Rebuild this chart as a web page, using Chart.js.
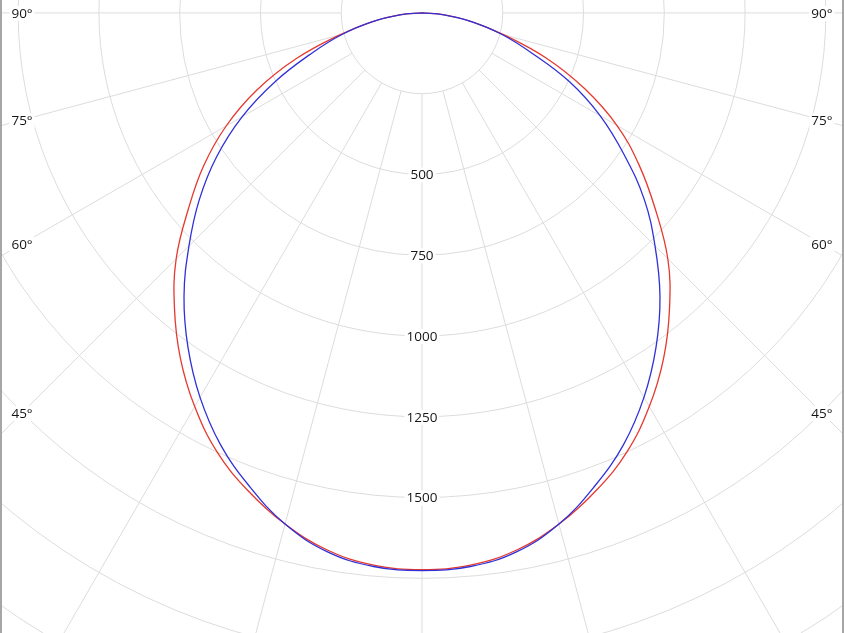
<!DOCTYPE html>
<html>
<head>
<meta charset="utf-8">
<script src="https://cdn.jsdelivr.net/npm/chart.js@4.4.0/dist/chart.umd.min.js"></script>
<style>
  html, body { margin: 0; padding: 0; background: #fff; overflow: hidden; }
  #wrap { width: 840px; height: 633px; border-left: 2px solid #a6a6a6; border-right: 2px solid #a6a6a6; }
</style>
</head>
<body>
<div id="wrap"><canvas id="polarChart" width="840" height="633"></canvas></div>
<script>
// angles from nadir, negative = left half of the diagram
const angles = [-90, -85, -80, -75, -70, -65, -60, -55, -50, -45, -40, -35, -30, -25, -20, -15, -10, -5,
  0, 5, 10, 15, 20, 25, 30, 35, 40, 45, 50, 55, 60, 65, 70, 75, 80, 85, 90];

// luminous intensity (cd)
const planeC0 = [0, 70, 158, 265, 415, 563, 700, 825, 944, 1076, 1192, 1304, 1407, 1500, 1574, 1638, 1688, 1716,
  1723, 1716, 1688, 1638, 1574, 1500, 1407, 1304, 1192, 1076, 942, 820, 697, 556, 410, 263, 158, 70, 0];
const planeC90 = [0, 68, 155, 255, 362, 500, 643, 776, 900, 1020, 1146, 1263, 1374, 1475, 1560, 1638, 1693, 1720,
  1726, 1720, 1693, 1638, 1560, 1475, 1374, 1263, 1146, 1020, 898, 763, 637, 503, 360, 255, 155, 68, 0];

const gridRadii = [250, 500, 750, 1000, 1250, 1500, 1750, 2000, 2250];
const gridAngles = [-90, -75, -60, -45, -30, -15, 0, 15, 30, 45, 60, 75, 90];
const radiusLabels = ["500", "750", "1000", "1250", "1500"];
const angleLabels = [90, 75, 60, 45, 30];

function toXY(values) {
  return values.map((v, i) => {
    const t = angles[i] * Math.PI / 180;
    return { x: v * Math.sin(t), y: -v * Math.cos(t) };
  });
}

const FONT = "13.5px 'Open Sans', sans-serif";

function drawLabel(ctx, text, px, py) {
  ctx.font = FONT;
  const w = ctx.measureText(text).width;
  ctx.fillStyle = "#fff";
  ctx.fillRect(px - w / 2 - 2, py - 7, w + 4, 15);
  ctx.fillStyle = "#151515";
  ctx.textAlign = "center";
  ctx.textBaseline = "middle";
  ctx.fillText(text, px, py + 1);
}

const polarGrid = {
  id: "polarGrid",
  beforeDatasetsDraw(chart) {
    const { ctx, scales: { x, y } } = chart;
    const cx = x.getPixelForValue(0);
    const cy = y.getPixelForValue(0);
    ctx.save();
    ctx.strokeStyle = "#dcdcdc";
    ctx.lineWidth = 1;
    gridRadii.forEach(r => {
      ctx.beginPath();
      ctx.arc(cx, cy, x.getPixelForValue(r) - cx, 0, Math.PI * 2);
      ctx.stroke();
    });
    const inner = gridRadii[0], outer = 4000;
    gridAngles.forEach(a => {
      const t = a * Math.PI / 180;
      ctx.beginPath();
      ctx.moveTo(x.getPixelForValue(inner * Math.sin(t)), y.getPixelForValue(-inner * Math.cos(t)));
      ctx.lineTo(x.getPixelForValue(outer * Math.sin(t)), y.getPixelForValue(-outer * Math.cos(t)));
      ctx.stroke();
    });
    ctx.restore();
  },
  afterDraw(chart) {
    const { ctx, scales: { x, y } } = chart;
    ctx.save();
    radiusLabels.forEach(l => {
      drawLabel(ctx, l, x.getPixelForValue(0), y.getPixelForValue(-Number(l)));
    });
    // angle labels sit near the left/right edges, on their radial line
    const edge = 1238;
    angleLabels.forEach(a => {
      const t = a * Math.PI / 180;
      const yy = -edge / Math.tan(t);
      [-1, 1].forEach(s => {
        drawLabel(ctx, a + "°", x.getPixelForValue(s * edge), y.getPixelForValue(yy));
      });
    });
    ctx.restore();
  }
};

new Chart(document.getElementById("polarChart"), {
  type: "scatter",
  data: {
    datasets: [
      {
        label: "C90-C270",
        data: toXY(planeC90),
        showLine: true,
        borderColor: "#3030d8",
        borderWidth: 1.3,
        pointRadius: 0,
        tension: 0.4,
        fill: false
      },
      {
        label: "C0-C180",
        data: toXY(planeC0),
        showLine: true,
        borderColor: "#e5382e",
        borderWidth: 1.3,
        pointRadius: 0,
        tension: 0.4,
        fill: false
      }
    ]
  },
  options: {
    responsive: false,
    animation: false,
    layout: { padding: 0 },
    scales: {
      x: { type: "linear", min: -1300, max: 1300, display: false },
      y: { type: "linear", min: -1919.3, max: 40, display: false }
    },
    plugins: {
      legend: { display: false },
      tooltip: { enabled: false }
    }
  },
  plugins: [polarGrid]
});
</script>
</body>
</html>
